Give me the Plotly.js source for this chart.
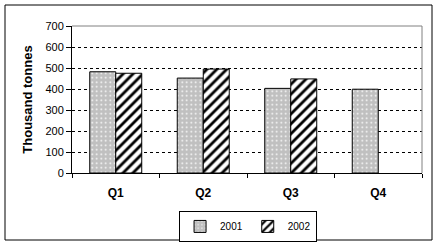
<!DOCTYPE html>
<html><head><meta charset="utf-8">
<script src="https://cdn.plot.ly/plotly-3.0.1.min.js"></script>
<style>body{margin:0;background:#fff}#c{width:437px;height:245px}</style>
</head><body><div id="c"></div>
<script>
const categories = ["Q1", "Q2", "Q3", "Q4"];
const s2001 = [482, 452, 403, 399];
const s2002 = [475, 495, 448, null];
const yTicks = [0, 100, 200, 300, 400, 500, 600, 700];
const yTitle = "Thousand tonnes";

const font = {family: "Liberation Sans, Arial, sans-serif", color: "#000"};

const traces = [
  {type: "bar", name: "2001", x: categories, y: s2001,
   marker: {color: "#c0c0c0", line: {color: "#000", width: 1},
            pattern: {shape: ".", fgcolor: "#ffffff", bgcolor: "#c0c0c0", size: 4.5, solidity: 0.12}}},
  {type: "bar", name: "2002", x: categories, y: s2002,
   marker: {color: "#ffffff", line: {color: "#000", width: 1},
            pattern: {shape: "/", fgcolor: "#000000", bgcolor: "#ffffff", size: 7, solidity: 0.4}}}
];

const layout = {
  width: 437, height: 245,
  margin: {l: 72, r: 15, t: 26, b: 72, autoexpand: false},
  paper_bgcolor: "#fff", plot_bgcolor: "#fff",
  font: Object.assign({size: 11}, font),
  barmode: "group", bargap: 0.406, bargroupgap: 0,
  showlegend: true,
  legend: {orientation: "h", x: 0.503, xanchor: "center", y: -0.258, yanchor: "top",
           bgcolor: "#fff", bordercolor: "#000", borderwidth: 1,
           font: Object.assign({size: 10}, font), itemwidth: 30, tracegroupgap: 0},
  xaxis: {showline: true, linecolor: "#000", linewidth: 1, ticks: "outside", ticklen: 4,
          tickcolor: "#000", tickson: "boundaries", showgrid: false, ticklabelstandoff: 9,
          tickfont: Object.assign({size: 12, weight: "bold"}, font)},
  yaxis: {range: [0, 700], tickvals: yTicks, showline: true, linecolor: "#000", linewidth: 1,
          ticks: "outside", ticklen: 5, tickcolor: "#000",
          showgrid: true, gridcolor: "#000", griddash: "3px,3px", gridwidth: 1, zeroline: false,
          tickfont: Object.assign({size: 11}, font),
          title: {text: yTitle, font: Object.assign({size: 13, weight: "bold"}, font), standoff: 9}},
  yaxis2: {overlaying: "y", anchor: "x", side: "left", range: [0, 700], tickvals: yTicks,
           ticks: "inside", ticklen: 3, tickcolor: "#000", showticklabels: false,
           showgrid: false, zeroline: false, showline: false},
  shapes: [
    {type: "line", xref: "paper", yref: "paper", x0: 0, x1: 1, y0: 1, y1: 1,
     line: {color: "#808080", width: 1}},
    {type: "line", xref: "paper", yref: "paper", x0: 1, x1: 1, y0: 0, y1: 1,
     line: {color: "#808080", width: 1}},
    {type: "rect", xref: "paper", yref: "paper",
     x0: -67/350, x1: 360/350, y0: -67/147, y1: 168/147,
     line: {color: "#000", width: 1}, fillcolor: "rgba(0,0,0,0)"}
  ]
};

Plotly.newPlot("c", traces, layout, {displayModeBar: false, staticPlot: true});
</script></body></html>
